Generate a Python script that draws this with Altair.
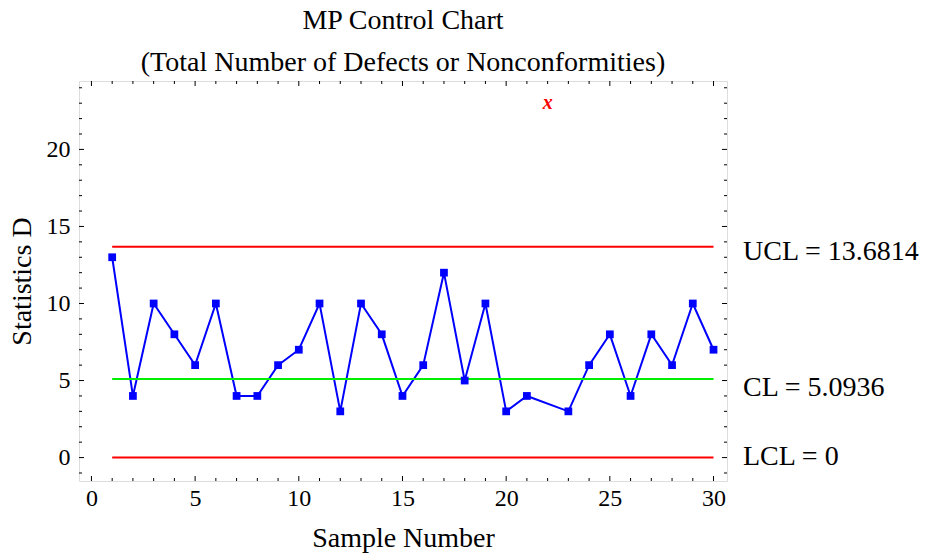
import altair as alt
import pandas as pd

# ---- data ----
samples = [1, 2, 3, 4, 5, 6, 7, 8, 9, 10, 11, 12, 13, 14, 15, 16, 17, 18, 19, 20, 21,
           23, 24, 25, 26, 27, 28, 29, 30]
statistic = [13, 4, 10, 8, 6, 10, 4, 4, 6, 7, 10, 3, 10, 8, 4, 6, 12, 5, 10, 3, 4,
             3, 6, 8, 4, 8, 6, 10, 7]
outlier_sample = [22]
outlier_value = [23]

limit_names = ["UCL = 13.6814", "CL = 5.0936", "LCL = 0"]
limit_values = [13.6814, 5.0936, 0]
limit_colors = ["#ff0000", "#00ee00", "#ff0000"]
limit_start = [1, 1, 1]
limit_end = [30, 30, 30]

x_major = [0, 5, 10, 15, 20, 25, 30]
x_minor = [v for v in range(0, 31) if v not in x_major]
y_major = [0, 5, 10, 15, 20]
y_minor = [v for v in range(-1, 25) if v not in y_major]

W, H = 648, 400
FONT = "Liberation Serif"

df = pd.DataFrame({"s": samples, "d": statistic})
out_df = pd.DataFrame({"s": outlier_sample, "d": outlier_value})
lim_df = pd.DataFrame({"name": limit_names, "v": limit_values, "c": limit_colors,
                       "x1": limit_start, "x2": limit_end})

xs = alt.Scale(domain=[-0.6, 30.65], nice=False, zero=False)
ys = alt.Scale(domain=[-1.52, 24.44], nice=False, zero=False)

xaxis = alt.Axis(values=x_major, format="d", grid=False, ticks=False, domain=False,
                 labelFont=FONT, labelFontSize=24, labelColor="black", labelPadding=5,
                 titleFont=FONT, titleFontSize=28, titleFontWeight="normal",
                 titleColor="black", titlePadding=14)
yaxis = alt.Axis(values=y_major, format="d", grid=False, ticks=False, domain=False,
                 labelFont=FONT, labelFontSize=24, labelColor="black", labelPadding=9,
                 titleFont=FONT, titleFontSize=28, titleFontWeight="normal",
                 titleColor="black", titlePadding=10)

base_line = alt.Chart(df).mark_line(color="#0000ff", strokeWidth=2).encode(
    x=alt.X("s:Q", scale=xs, axis=xaxis, title="Sample Number"),
    y=alt.Y("d:Q", scale=ys, axis=yaxis, title="Statistics D"),
)
points = alt.Chart(df).mark_point(shape="square", filled=True, color="#0000ff",
                                  size=60, opacity=1).encode(
    x=alt.X("s:Q", scale=xs), y=alt.Y("d:Q", scale=ys))

limits = alt.Chart(lim_df).mark_rule(strokeWidth=2).encode(
    x=alt.X("x1:Q", scale=xs), x2="x2:Q",
    y=alt.Y("v:Q", scale=ys),
    color=alt.Color("c:N", scale=None),
)

lim_text = []
for name, dy in zip(limit_names, [5, 9, -1]):
    lim_text.append(
        alt.Chart(lim_df).transform_filter(alt.datum.name == name)
        .mark_text(align="left", baseline="middle", font=FONT, fontSize=28,
                   color="black", dy=dy)
        .encode(x=alt.value(W + 16), y=alt.Y("v:Q", scale=ys), text="name:N")
    )

outlier = alt.Chart(out_df).mark_text(text="x", font=FONT, fontSize=20,
                                      fontStyle="italic", fontWeight="bold",
                                      color="#ff0000", baseline="middle").encode(
    x=alt.X("s:Q", scale=xs), y=alt.Y("d:Q", scale=ys))


def xticks(vals, length):
    d = pd.DataFrame({"t": vals})
    b = alt.Chart(d).mark_rule(color="black", strokeWidth=1)
    bottom = b.encode(x=alt.X("t:Q", scale=xs), y=alt.value(H), y2=alt.value(H - length))
    top = b.encode(x=alt.X("t:Q", scale=xs), y=alt.value(0), y2=alt.value(length))
    return [bottom, top]


def yticks(vals, length):
    d = pd.DataFrame({"t": vals})
    b = alt.Chart(d).mark_rule(color="black", strokeWidth=1)
    left = b.encode(y=alt.Y("t:Q", scale=ys), x=alt.value(0), x2=alt.value(length))
    right = b.encode(y=alt.Y("t:Q", scale=ys), x=alt.value(W), x2=alt.value(W - length))
    return [left, right]


tick_layers = xticks(x_major, 5) + xticks(x_minor, 3) + yticks(y_major, 5) + yticks(y_minor, 3)

chart = alt.layer(base_line, *tick_layers, limits, points, outlier, *lim_text).properties(
    width=W, height=H,
    title=alt.TitleParams(
        text=["MP Control Chart", "(Total Number of Defects or Nonconformities)"],
        font=FONT, fontSize=28, fontWeight="normal", color="black",
        lineHeight=42, anchor="middle", offset=4),
    autosize=alt.AutoSizeParams(type="none"),
    padding={"left": 79, "top": 81, "right": 928 - 79 - W, "bottom": 554 - 81 - H},
).configure_view(stroke="black", strokeWidth=1).configure(background="white")

chart.save("out.html", embed_options={"renderer": "svg", "actions": False})
